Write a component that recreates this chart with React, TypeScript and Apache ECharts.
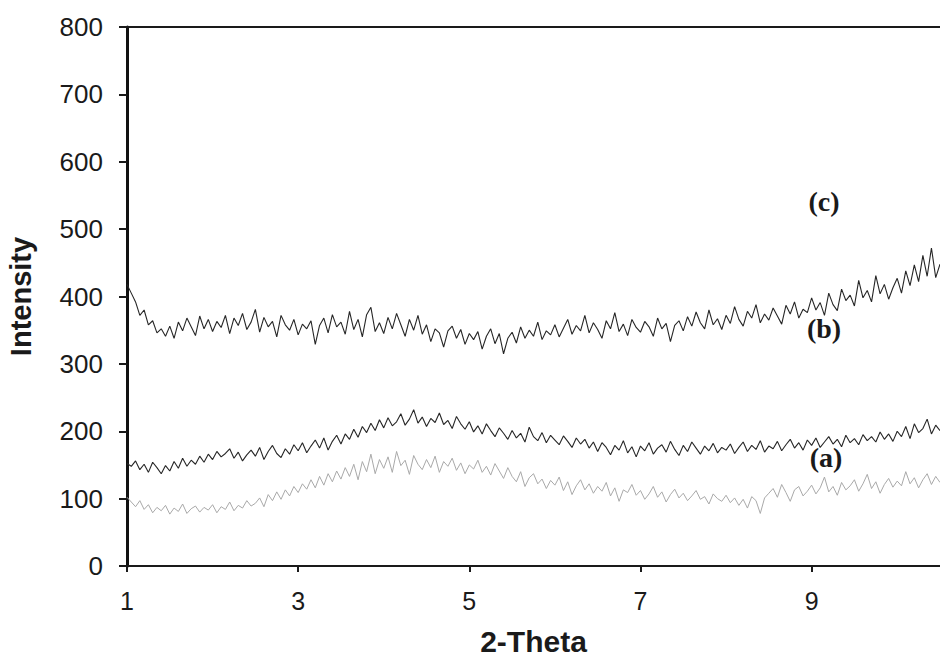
import React, { useEffect, useRef } from "react";
import * as echarts from "echarts";

// 2-Theta sampling grid (degrees)
const thetaStart = 1.0;
const thetaStep = 0.05;

// Series (b) intensities
const seriesB = [
  418, 405, 392, 372, 380, 358, 364, 346, 352, 341,
  356, 338, 362, 349, 368, 355, 342, 371, 352, 366,
  348, 363, 354, 372, 345, 368, 357, 375, 351, 362,
  381, 347, 369, 355, 363, 340, 372, 358, 350, 366,
  343, 359, 352, 364, 329, 357, 368, 346, 373, 355,
  362, 344, 378, 351, 366, 340, 373, 384, 348, 361,
  345, 369, 352, 375, 358, 341, 366, 350, 372, 344,
  358, 333, 352, 346, 325, 349, 356, 338, 351, 329,
  345, 336, 348, 322, 341, 352, 330, 345, 315, 338,
  347, 331, 355, 338, 350, 341, 362, 336, 349, 343,
  358, 340, 353, 366, 344, 357, 349, 372, 346, 361,
  351, 338, 364, 352, 376, 348, 359, 342, 366, 354,
  347, 363, 355, 341, 368, 352, 360, 333, 357, 364,
  349, 370, 356, 377, 361, 352, 380, 358, 367, 351,
  372, 360, 385, 366, 356, 378, 368, 388, 361, 374,
  365, 383, 371, 359, 387, 374, 392, 368, 381, 376,
  398, 380, 391, 372, 405, 388, 379, 411, 394, 402,
  386, 424, 398, 409, 392, 431, 404, 418, 396, 413,
  427, 405, 438, 416, 447, 422, 461, 430, 472, 428,
  448,
];

// Series (a) intensities
const seriesA = [
  152, 148, 156, 143, 151, 139, 154, 146, 137, 149,
  141, 155, 145, 160, 148, 157, 151, 163, 154, 166,
  158, 170, 162, 167, 174, 160, 169, 156, 165, 172,
  163, 176, 158, 170, 179, 167, 161, 174, 166, 180,
  171, 183, 168, 178, 187, 175, 190, 172, 185, 194,
  181, 196, 188, 203, 191, 207, 198, 212, 201, 217,
  205, 220, 208, 214, 226, 209, 218, 232, 212, 221,
  207, 219, 213, 227, 210, 216, 204, 222, 211, 203,
  214, 199, 208, 196, 211, 201, 192, 205, 197, 188,
  201, 190, 197, 184, 206, 192, 186, 198, 183, 194,
  187, 180, 193, 185, 176, 190, 181, 188, 175, 184,
  170, 183, 176, 165, 179, 172, 186, 168, 177, 162,
  178, 171, 183, 166, 175, 180, 169, 185, 173, 164,
  179, 170, 184, 175, 166, 178, 171, 182, 168, 176,
  172, 181, 167, 176, 184, 170, 179, 173, 186, 169,
  178, 174, 185, 171, 180, 188, 175, 183, 172, 187,
  179, 190, 176, 184, 192, 181, 188, 177, 194, 183,
  189, 180, 195, 186, 192, 184, 199, 188, 196, 185,
  200, 192, 207, 189, 211, 198, 204, 218, 196, 209,
  201,
];

// Light grey trace intensities
const seriesGrey = [
  102, 95, 88, 97, 84, 91, 79, 87, 82, 90,
  77, 86, 81, 92, 78, 85, 89, 80, 87, 83,
  91, 79, 88, 84, 95, 82, 90, 86, 97, 89,
  93, 101, 88, 106, 97, 110, 99, 113, 104, 118,
  109, 122, 114, 128, 116, 133, 120, 137, 125, 141,
  129, 146, 133, 151, 128, 155, 140, 166, 137, 158,
  145, 162, 139, 170, 149, 157, 136, 164, 151, 143,
  158, 146, 163, 139, 155, 148, 160, 142, 153, 137,
  150, 144, 157, 139, 148, 135, 152, 141, 130, 146,
  133, 125, 140, 118, 131, 137, 122, 129, 115, 127,
  120, 132, 112, 125, 106, 119, 128, 113, 122, 108,
  118, 111, 124, 104, 116, 96, 113, 109, 121, 105,
  112, 99, 107, 118, 102, 110, 95, 106, 114, 101,
  108, 97, 104, 112, 99, 103, 92, 107, 100, 96,
  105, 94, 101, 90, 99, 86, 103, 97, 78, 101,
  108, 115, 102, 121, 109, 96, 113, 118, 104, 111,
  120, 107, 116, 132, 110, 118, 105, 124, 113, 119,
  128, 111, 122, 136, 115, 125, 108, 121, 130, 117,
  126, 119, 140, 122, 131, 116, 128, 137, 121, 133,
  124,
];

const xTickValues = [1, 3, 5, 7, 9];
const curveLabels = ["(c)", "(b)", "(a)"];

const toPairs = (vals: number[]) =>
  vals.map((v, i) => [Number((thetaStart + i * thetaStep).toFixed(2)), v]);

export default function App() {
  const ref = useRef<HTMLDivElement>(null);

  useEffect(() => {
    if (!ref.current) return;
    const chart = echarts.init(ref.current, null, { renderer: "svg" });
    const sans = "'Liberation Sans', Arial, sans-serif";
    const labelFont = "bold 28px 'Liberation Serif', 'Times New Roman', serif";
    chart.setOption({
      animation: false,
      backgroundColor: "#ffffff",
      grid: { left: 127, right: 0, top: 27, bottom: 91, containLabel: false, outerBoundsMode: "none" },
      xAxis: [
        {
          type: "value",
          min: 1,
          max: 10.5,
          name: "2-Theta",
          nameLocation: "middle",
          nameGap: 60,
          nameTextStyle: { fontFamily: sans, fontSize: 30, fontWeight: "bold", color: "#1a1a1a" },
          axisLine: { show: true, onZero: false, lineStyle: { color: "#1a1a1a", width: 2 } },
          axisTick: { show: true, customValues: xTickValues, length: 6, lineStyle: { color: "#1a1a1a", width: 2 } },
          axisLabel: { customValues: xTickValues, fontFamily: sans, fontSize: 25, color: "#1a1a1a", margin: 22 },
          splitLine: { show: false },
        },
        {
          type: "value",
          position: "top",
          min: 1,
          max: 10.5,
          axisLine: { show: true, onZero: false, lineStyle: { color: "#1a1a1a", width: 2 } },
          axisTick: { show: false },
          axisLabel: { show: false },
          splitLine: { show: false },
        },
      ],
      yAxis: {
        type: "value",
        min: 0,
        max: 800,
        interval: 100,
        name: "Intensity",
        nameLocation: "middle",
        nameGap: 92,
        nameTextStyle: { fontFamily: sans, fontSize: 29, fontWeight: "bold", color: "#1a1a1a" },
        axisLine: { show: true, onZero: false, lineStyle: { color: "#111", width: 3 } },
        axisTick: { show: true, length: 8, lineStyle: { color: "#1a1a1a", width: 2 } },
        axisLabel: { fontFamily: sans, fontSize: 26, color: "#1a1a1a", margin: 24 },
        splitLine: { show: false },
      },
      series: [
        {
          name: "grey",
          type: "line",
          data: toPairs(seriesGrey),
          showSymbol: false,
          lineStyle: { color: "#a9a9a9", width: 1 },
          z: 1,
        },
        {
          name: "(a)",
          type: "line",
          data: toPairs(seriesA),
          showSymbol: false,
          lineStyle: { color: "#262626", width: 1.1 },
          z: 2,
        },
        {
          name: "(b)",
          type: "line",
          data: toPairs(seriesB),
          showSymbol: false,
          lineStyle: { color: "#262626", width: 1.1 },
          z: 2,
        },
      ],
      graphic: [
        { type: "text", x: 824, y: 201, style: { text: curveLabels[0], font: labelFont, fill: "#1a1a1a", textAlign: "center", textVerticalAlign: "middle" } },
        { type: "text", x: 824, y: 328, style: { text: curveLabels[1], font: labelFont, fill: "#1a1a1a", textAlign: "center", textVerticalAlign: "middle" } },
        { type: "text", x: 826, y: 457, style: { text: curveLabels[2], font: labelFont, fill: "#1a1a1a", textAlign: "center", textVerticalAlign: "middle" } },
      ],
    });
    return () => chart.dispose();
  }, []);

  return (
    <div
      ref={ref}
      style={{ position: "absolute", left: 0, top: 0, width: 940, height: 657, background: "#fff" }}
    />
  );
}
